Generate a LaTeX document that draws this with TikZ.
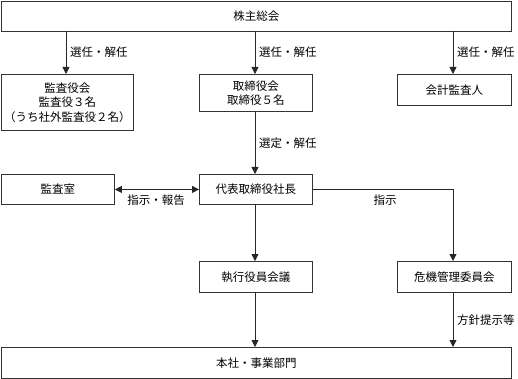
\documentclass[tikz,border=0pt]{standalone}
\usepackage{fontspec}
\setmainfont{Noto Sans CJK JP}
\usetikzlibrary{arrows.meta}
\begin{document}
\begin{tikzpicture}[x=1pt,y=-1pt,
  box/.style={draw=black!80, line width=0.9pt, anchor=north west, inner sep=0pt, align=center,
    font=\fontsize{11.5}{14.5}\selectfont},
  lbl/.style={font=\fontsize{11.5}{14}\selectfont, inner sep=0pt},
  conn/.style={draw=black!85, line width=0.8pt, -{Triangle[width=7pt,length=7pt]}},
  dconn/.style={draw=black!85, line width=0.8pt, {Triangle[width=7pt,length=7pt]}-{Triangle[width=7pt,length=7pt]}}
]
\useasboundingbox (0,0) rectangle (518,379);
\node[box, minimum width=510pt, minimum height=30pt] (gm) at (1,1) {株主総会};
\node[box, minimum width=132pt, minimum height=56pt] (aud) at (1,74) {監査役会\\監査役３名\\（うち社外監査役２名）};
\node[box, minimum width=113pt, minimum height=37pt] (bod) at (199,74) {取締役会\\取締役５名};
\node[box, minimum width=114pt, minimum height=31pt] (acc) at (397,74) {会計監査人};
\node[box, minimum width=113pt, minimum height=30pt] (iad) at (1,174) {監査室};
\node[box, minimum width=113pt, minimum height=30pt] (ceo) at (199,174) {代表取締役社長};
\node[box, minimum width=113pt, minimum height=31pt] (exe) at (199,261) {執行役員会議};
\node[box, minimum width=114pt, minimum height=31pt] (crm) at (397,261) {危機管理委員会};
\node[box, minimum width=510pt, minimum height=31pt] (hq) at (1,347) {本社・事業部門};

\coordinate (a1) at (66,31);
\coordinate (a2) at (255,31);
\coordinate (a3) at (453,31);
\draw[conn] (a1) -- (a1 |- aud.north);
\draw[conn] (a2) -- (a2 |- bod.north);
\draw[conn] (a3) -- (a3 |- acc.north);
\draw[conn] (a2 |- bod.south) -- (a2 |- ceo.north);
\draw[dconn] (iad.east) -- (ceo.west);
\draw[conn] (ceo.east) -| (a3 |- crm.north);
\draw[conn] (a2 |- ceo.south) -- (a2 |- exe.north);
\draw[conn] (a2 |- exe.south) -- (a2 |- hq.north);
\draw[conn] (a3 |- crm.south) -- (a3 |- hq.north);

\node[lbl, anchor=west] (l1) at (70,52) {選任・解任};
\node[lbl, anchor=west] (l2) at (259,52) {選任・解任};
\node[lbl, anchor=west] (l3) at (457,52) {選任・解任};
\node[lbl, anchor=west] (l4) at (259,143) {選定・解任};
\node[lbl] (l5) at (156,200) {指示・報告};
\node[lbl] (l6) at (385,200) {指示};
\node[lbl, anchor=west] (l7) at (457,320) {方針提示等};
\end{tikzpicture}
\end{document}
